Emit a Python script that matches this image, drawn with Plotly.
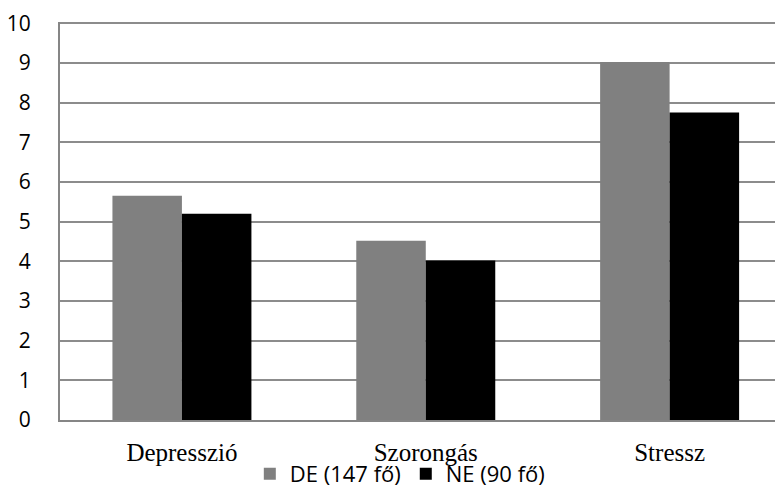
import plotly.graph_objects as go

categories = ["Depresszió", "Szorongás", "Stressz"]
de_values = [5.65, 4.52, 9.02]
ne_values = [5.2, 4.02, 7.75]
series_names = ["DE (147 fő)", "NE (90 fő)"]
y_ticks = list(range(0, 11))

fig = go.Figure()
fig.add_trace(go.Bar(x=categories, y=de_values, name=series_names[0],
                     marker=dict(color="#808080", line=dict(width=0))))
fig.add_trace(go.Bar(x=categories, y=ne_values, name=series_names[1],
                     marker=dict(color="#000000", line=dict(width=0))))

fig.update_layout(
    width=775, height=479,
    margin=dict(l=52, r=0, t=14, b=67, autoexpand=False),
    paper_bgcolor="white", plot_bgcolor="white",
    barmode="group", bargap=0.43, bargroupgap=0,
    showlegend=True,
    legend=dict(orientation="h", x=0.47, xanchor="center",
                yref="container", y=0.027, yanchor="middle",
                bgcolor="rgba(0,0,0,0)",
                font=dict(family="Open Sans, Lato, sans-serif", size=22, color="#000"),
                itemwidth=30, traceorder="normal"),
    xaxis=dict(range=[-0.5, 2.465], showline=True, linecolor="#868686", linewidth=2,
               showgrid=False, ticks="", ticklabelstandoff=9, automargin=False,
               tickfont=dict(family="Liberation Serif, Times New Roman, serif", size=25, color="#000")),
    yaxis=dict(range=[0, 10.03], tickvals=y_ticks, showline=True, linecolor="#868686", linewidth=2,
               showgrid=True, gridcolor="#8c8c8c", gridwidth=1.5, zeroline=False, ticks="",
               ticklabelstandoff=23, automargin=False, ticklabeloverflow="allow",
               tickfont=dict(family="Open Sans, Lato, sans-serif", size=21, color="#000")),
)
fig.write_html("out.html")
